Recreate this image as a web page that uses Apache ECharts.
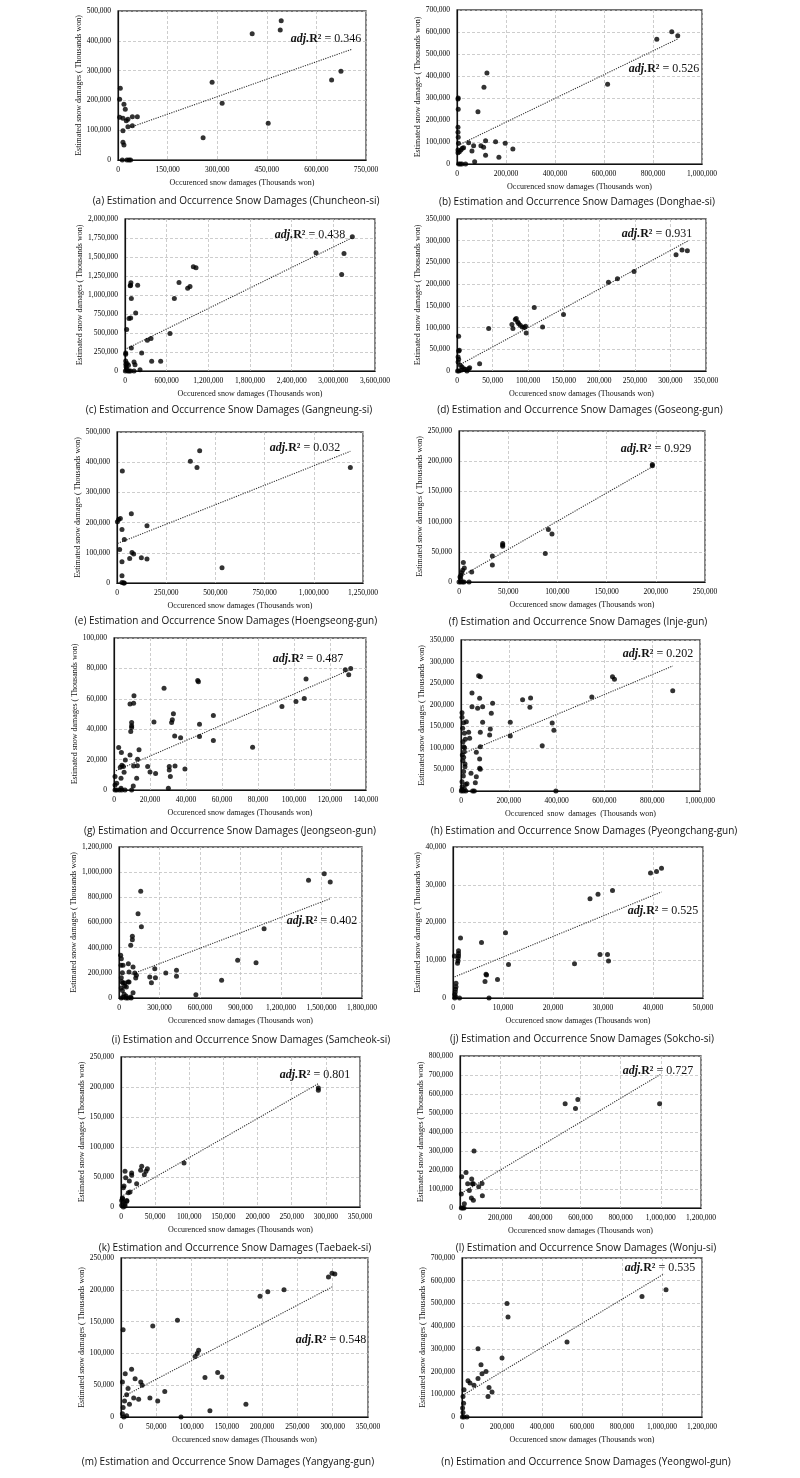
<!DOCTYPE html>
<html><head><meta charset="utf-8">
<script src="https://cdn.jsdelivr.net/npm/echarts@6/dist/echarts.min.js"></script>
<style>html,body{margin:0;padding:0;background:#fff}#c{width:800px;height:1478px}</style>
</head><body><div id="c"></div>
<script>
// ---------------- DATA ----------------
const regions = ['Chuncheon-si','Donghae-si','Gangneung-si','Goseong-gun','Hoengseong-gun','Inje-gun','Jeongseon-gun','Pyeongchang-gun','Samcheok-si','Sokcho-si','Taebaek-si','Wonju-si','Yangyang-gun','Yeongwol-gun'];
const letters = ['a','b','c','d','e','f','g','h','i','j','k','l','m','n'];
const r2Values = ['0.346','0.526','0.438','0.931','0.032','0.929','0.487','0.202','0.402','0.525','0.801','0.727','0.548','0.535'];
const xNames = ['Occurenced snow damages (Thousands won)','Occurenced snow damages (Thousands won)','Occurenced snow damages (Thousands won)','Occurenced snow damages (Thousands won)','Occurenced snow damages (Thousands won)','Occurenced snow damages (Thousands won)','Occurenced snow damages (Thousands won)','Occurenced  snow  damages  (Thousands won)','Occurenced snow damages (Thousands won)','Occurenced snow damages (Thousands won)','Occurenced snow damages (Thousands won)','Occurenced snow damages (Thousands won)','Occurenced snow damages (Thousands won)','Occurenced snow damages (Thousands won)'];
const yName = 'Estimated snow damages ( Thousands won)';
const xMaxes = [750000,1000000,3600000,350000,1250000,250000,140000,1000000,1800000,50000,350000,1200000,350000,1200000];
const xSteps = [150000,200000,600000,50000,250000,50000,20000,200000,300000,10000,50000,200000,50000,200000];
const yMaxes = [500000,700000,2000000,350000,500000,250000,100000,350000,1200000,40000,250000,800000,250000,700000];
const ySteps = [100000,100000,250000,50000,100000,50000,20000,50000,200000,10000,50000,100000,50000,100000];

const ptsA = [[7000,240500],[5000,203600],[5000,143200],[15000,139800],[18000,186800],[22000,170000],[25000,132000],[30000,136500],[30000,111900],[15000,98400],[43400,145400],[58500,145400],[43400,115200],[15000,59300],[18000,50300],[13000,0],[27000,0],[33000,0],[38000,0],[257400,75000],[284600,260600],[314900,190200],[405800,424000],[454200,123000],[490600,436300],[493600,467600],[646000,268500],[674300,297600]];
const trendA = [[38000,110000],[706600,371400]];

const ptsB = [[5000,300000],[4000,295000],[5000,248500],[4000,166600],[4000,144000],[5000,121200],[6000,94000],[4000,63600],[9500,56000],[16000,63600],[21700,71200],[27000,74200],[4000,51500],[7000,0],[13500,0],[20000,0],[35000,0],[47500,97000],[61000,59000],[67800,83300],[72000,10600],[85500,237900],[97700,83300],[108600,75800],[110000,348500],[116700,106000],[116700,39400],[122100,413600],[157400,101500],[171000,30300],[196800,94000],[228000,68200],[614700,362100],[815500,566600],[876600,601500],[901000,583300]];
const trendB = [[5000,85000],[900000,568000]];

const ptsC = [[10000,237400],[10000,220000],[24000,545000],[57600,690000],[81600,699000],[80000,1129700],[85000,1160000],[75000,1120900],[91200,953800],[91200,303300],[153600,764800],[182400,1129700],[129600,118700],[144000,83500],[129600,0],[240000,237400],[216000,17600],[321600,404400],[374400,426400],[384000,127500],[513600,127500],[648000,492300],[710400,953800],[777600,1164800],[902400,1090100],[936000,1112100],[984000,1371400],[1022400,1358200],[2750400,1556000],[3153600,1547300],[3120000,1270300],[3273600,1767000],[10000,130000],[12000,90000],[15000,55000],[25000,30000],[40000,0],[60000,0],[80000,0],[5000,0],[30000,100000],[50000,75000]];
const trendC = [[24000,294500],[3264000,1750000]];

const ptsD = [[2300,80000],[2300,46150],[3300,47700],[1500,32300],[2300,27000],[1500,20800],[4700,13000],[7000,9200],[9400,5400],[11700,3800],[14000,0],[16400,5400],[17800,7700],[800,0],[2600,0],[5600,1500],[31800,16900],[44500,97700],[77200,106900],[78600,97700],[81900,118500],[83300,120800],[85200,113100],[86600,109200],[88900,105400],[91700,101500],[94500,100000],[96400,103100],[97300,87700],[108600,146200],[120300,101500],[149700,130000],[212900,204600],[225500,212300],[248900,229200],[307900,267700],[316300,278500],[323800,276900]];
const trendD = [[2300,13000],[325200,300000]];

const ptsE = [[2000,202600],[8500,210300],[17000,213600],[13500,111200],[27100,371100],[25400,177300],[25400,70500],[25400,24200],[25400,2000],[33900,0],[37000,0],[37300,144300],[72800,229100],[76200,101300],[84700,95800],[64400,81500],[123700,83700],[152400,189400],[152400,79300],[372700,403100],[406500,382200],[420100,438300],[533600,50700],[1185700,382100]];
const trendE = [[3000,131000],[1185700,436100]];

const ptsF = [[196500,194700],[196500,192500],[90800,86800],[94500,79600],[87700,47000],[44400,63600],[44400,59200],[44400,61400],[33900,43100],[33900,28200],[12900,16600],[4400,32100],[5400,23200],[3700,19400],[2700,15500],[2000,11100],[1000,8300],[1700,5500],[0,0],[1700,0],[3700,0],[5100,0],[10200,0]];
const trendF = [[1000,8300],[196500,190800]];

const ptsG = [[560,8800],[560,3300],[1500,4400],[560,0],[1500,0],[3000,0],[4300,0],[6100,0],[2600,27900],[4100,24600],[3900,7700],[3900,1100],[3500,14900],[4400,16300],[5200,15400],[5600,11600],[6300,19800],[8900,23100],[8900,56500],[9800,44400],[9800,42200],[9800,41100],[9300,38500],[11100,62000],[10900,57100],[10900,15800],[10700,2600],[9800,0],[12600,7700],[13000,16000],[13100,20200],[13900,26400],[18700,15400],[20000,11900],[22200,44800],[23100,10800],[27800,67000],[30200,1100],[30700,13200],[30700,15400],[31300,8800],[32000,44400],[32400,46200],[33000,50100],[33700,35600],[33900,15800],[37000,34300],[39400,13800],[46500,72100],[46900,71200],[47500,43300],[47500,35200],[55200,49000],[55200,32500],[77000,28100],[93300,55000],[101100,58200],[105700,60200],[106700,73000],[128500,79100],[130400,75800],[131500,80000]];
const trendG = [[1100,12700],[130400,78700]];

const ptsH = [[73800,267300],[80800,265000],[46000,227100],[46000,195500],[69600,191600],[78000,214800],[90500,195500],[132300,203200],[126800,180000],[90500,159200],[80800,136000],[122600,143700],[119800,129800],[32000,136000],[36200,122100],[80800,102800],[64100,89600],[78000,74200],[78000,52500],[80800,50200],[41800,40900],[64100,33200],[59900,19300],[48700,0],[55700,0],[206100,159200],[206100,127500],[257700,211700],[291100,215600],[288300,193900],[339900,105100],[381600,157600],[388600,140600],[397000,0],[547400,217900],[633800,265000],[642100,258800],[885900,232600],[4200,181600],[4200,170700],[7000,145200],[11100,158400],[13900,133700],[22300,160700],[8400,114300],[11100,102800],[13900,91200],[5600,83400],[11100,78000],[16700,62600],[16700,56400],[9700,34800],[4200,21600],[11000,45000],[19000,15000],[25000,17000],[5000,10000],[14000,5000],[1500,0],[10000,0],[20000,0],[3000,3000],[8000,70000],[15000,100000],[18000,120000]];
const trendH = [[4200,85800],[885900,289700]];

const ptsI = [[1520300,988100],[1403900,935100],[1564800,921900],[1074600,551000],[879000,299300],[1015200,280800],[760100,140400],[569500,26500],[425900,219900],[425900,172200],[346600,198700],[264900,233100],[269900,161600],[227800,166900],[240200,121900],[160900,847700],[141100,670200],[165900,566900],[99000,490100],[99000,463600],[86700,418500],[69300,272800],[104000,246400],[116400,198700],[128800,180100],[123800,158900],[104000,42400],[74300,206600],[74300,127200],[12400,339100],[17300,312600],[29700,259600],[66900,127200],[42100,119200],[54500,87400],[86700,8000],[17000,160000],[30000,120000],[42000,95000],[17000,80000],[25000,60000],[38000,30000],[52000,15000],[30000,5000],[17000,0],[52000,0],[66000,0],[90000,0],[20000,130000],[25000,200000],[15000,260000]];
const trendI = [[91600,188100],[1564800,789400]];

const ptsJ = [[39500,33100],[40700,33500],[41700,34400],[31900,28500],[29000,27500],[27400,26300],[10500,17300],[5700,14700],[1500,15900],[270,11100],[1100,12500],[1100,11800],[1100,11100],[1000,10500],[1000,9800],[900,9200],[11100,8900],[6600,6300],[6700,6100],[6400,4400],[8900,4900],[7200,0],[24300,9100],[29400,11500],[30900,11500],[31100,9800],[600,3900],[600,3000],[500,2300],[450,1600],[350,900],[500,400],[350,0],[1300,0]];
const trendJ = [[330,5600],[41700,28100]];

const ptsK = [[289000,198300],[289000,194500],[92300,73300],[30300,67800],[28800,61100],[38600,63900],[36600,59400],[34200,53900],[22900,38900],[15600,56700],[15600,52800],[12200,43300],[5900,59400],[6800,48900],[4400,35000],[3400,32200],[10700,23900],[13200,25000],[2000,15000],[1000,11000],[3400,7800],[5900,5500],[8500,9500],[1000,2800],[3400,0],[5900,1600],[2400,13900],[8500,11000]];
const trendK = [[3400,19400],[289000,205600]];

const ptsL = [[993900,548500],[586700,571200],[523500,548500],[575100,524000],[69800,300400],[29900,186900],[8300,164200],[58200,152000],[38200,127500],[61500,127500],[66500,127500],[109700,129300],[93100,111800],[46500,92600],[6600,73400],[111400,64600],[56500,52400],[66500,40200],[21600,22700],[6600,0],[13300,0],[19900,0]];
const trendL = [[8300,78600],[997200,702200]];

const ptsM = [[3000,137000],[45000,143000],[80000,152000],[105000,95000],[108000,100000],[110000,105000],[119000,62000],[137000,70000],[143000,63000],[126000,10000],[177000,20000],[52000,25000],[41000,30000],[62000,40000],[197000,190000],[208000,197000],[231000,200000],[294000,220000],[299000,226000],[303000,225000],[85000,0],[2000,5000],[3000,15000],[5000,25000],[8000,35000],[10000,45000],[2000,55000],[12000,20000],[18000,30000],[25000,28000],[30000,50000],[20000,60000],[6000,68000],[15000,75000],[28000,55000],[4000,0],[8000,2000]];
const trendM = [[3000,32000],[300000,205000]];

const ptsN = [[1020000,560000],[900000,530000],[525000,330000],[225000,500000],[230000,440000],[200000,260000],[80000,300000],[95000,230000],[80000,170000],[135000,130000],[130000,90000],[60000,140000],[30000,160000],[10000,120000],[5000,90000],[8000,60000],[3000,40000],[5000,20000],[2000,0],[10000,0],[25000,0],[40000,150000],[100000,190000],[120000,200000],[150000,110000]];
const trendN = [[3000,95000],[1010000,630000]];

const allPts = [ptsA,ptsB,ptsC,ptsD,ptsE,ptsF,ptsG,ptsH,ptsI,ptsJ,ptsK,ptsL,ptsM,ptsN];
const allTrends = [trendA,trendB,trendC,trendD,trendE,trendF,trendG,trendH,trendI,trendJ,trendK,trendL,trendM,trendN];

// ---------------- LAYOUT ----------------
const boxes = [
  [118,11,366,160],[457,10,702,164],
  [125,219,375,371],[457,219,706,371],
  [117,432,363,583],[459,431,705,582],
  [114,638,366,790],[461,640,700,791],
  [119,847,362,998],[453,847,703,998],
  [121,1057,360,1207],[460,1056,701,1208],
  [121,1258,368,1417],[462,1258,702,1417]
];
const annPos = [[326,39],[664,69],[310,235],[657,234],[305,448],[656,449],[308,659],[658,654],[322,921],[663,911],[315,1075],[658,1071],[331,1340],[660,1268]];
const capPos = [[236,201],[577,202],[229,410],[580,410],[226,621],[578,622],[230,831],[584,831],[251,1040],[582,1039],[235,1248],[586,1248],[228,1462],[586,1462]];

const fmt = v => Number(v).toLocaleString('en-US');
const serif = 'Liberation Serif';

const grids=[], xAxes=[], yAxes=[], series=[], graphics=[];
boxes.forEach((b,i)=>{
  const [l,t,r,bt] = b;
  grids.push({left:l, top:t, width:r-l, height:bt-t, show:true, borderColor:'#444', borderWidth:1.3, backgroundColor:'transparent'});
  xAxes.push({type:'value', gridIndex:i, min:0, max:xMaxes[i], interval:xSteps[i],
    name:xNames[i], nameLocation:'middle', nameGap:19,
    nameTextStyle:{fontFamily:serif, fontSize:8, color:'#111'},
    axisLine:{show:true, onZero:false, lineStyle:{color:'#111', width:1.2}},
    axisTick:{show:false},
    axisLabel:{fontFamily:serif, fontSize:7.5, color:'#000', margin:6, formatter:fmt, showMaxLabel:true, showMinLabel:true},
    splitLine:{show:true, lineStyle:{type:[3,2], color:'#c0c0c0', width:0.8}}
  });
  yAxes.push({type:'value', gridIndex:i, min:0, max:yMaxes[i], interval:ySteps[i],
    name:yName, nameLocation:'middle', nameGap:31,
    nameTextStyle:{fontFamily:serif, fontSize:8, color:'#111'},
    axisLine:{show:true, onZero:false, lineStyle:{color:'#111', width:1.2}},
    axisTick:{show:false},
    axisLabel:{fontFamily:serif, fontSize:7.5, color:'#000', margin:7, formatter:fmt, showMaxLabel:true, showMinLabel:true},
    splitLine:{show:true, lineStyle:{type:[3,2], color:'#c0c0c0', width:0.8}}
  });
  series.push({type:'line', xAxisIndex:i, yAxisIndex:i, data:allTrends[i], symbol:'none', silent:true,
    lineStyle:{type:[1.2,1.2], color:'#333', width:1.1}, z:2});
  series.push({type:'scatter', xAxisIndex:i, yAxisIndex:i, data:allPts[i], symbolSize:5,
    itemStyle:{color:'#000'}, z:3});
  graphics.push({type:'text', x:annPos[i][0], y:annPos[i][1], z:10,
    style:{text:'{it|adj.}{b|R²}{n| = '+r2Values[i]+'}', align:'center', verticalAlign:'middle',
      rich:{it:{fontFamily:serif, fontStyle:'italic', fontWeight:'bold', fontSize:12, fill:'#111'},
            b:{fontFamily:serif, fontWeight:'bold', fontSize:12, fill:'#111'},
            n:{fontFamily:serif, fontSize:12, fill:'#111'}}}});
  graphics.push({type:'text', x:capPos[i][0], y:capPos[i][1], z:10,
    style:{text:'('+letters[i]+') Estimation and Occurrence Snow Damages ('+regions[i]+')',
      align:'center', verticalAlign:'middle', font:'10px "Open Sans"', fill:'#111'}});
});

const chart = echarts.init(document.getElementById('c'), null, {renderer:'canvas'});
chart.setOption({animation:false, backgroundColor:'#fff', grid:grids, xAxis:xAxes, yAxis:yAxes, series:series, graphic:graphics});
</script></body></html>
